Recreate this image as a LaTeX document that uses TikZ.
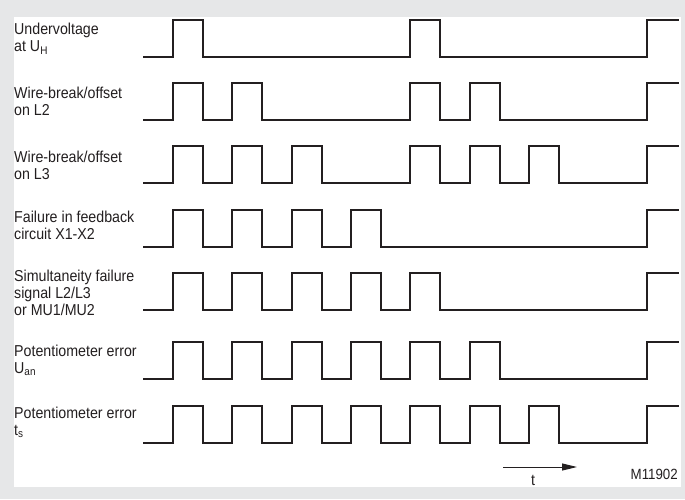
\documentclass[tikz,border=0pt]{standalone}
\usepackage{fontspec}
\setmainfont{Liberation Sans}[FakeStretch=0.9]
\usepackage{xcolor}
\usepackage{tikz}
\usetikzlibrary{arrows.meta}
\definecolor{panelgrey}{HTML}{E6E7E8}
\definecolor{ink}{HTML}{231F20}

\begin{document}
\begin{tikzpicture}[x=1pt, y=-1pt,
    sigtext/.style={anchor=north west, inner sep=0pt, align=left, text=ink,
                    font=\fontsize{15.8}{16.8}\selectfont},
    wave/.style={draw=ink, line width=2pt},
    tarrow/.style={draw=ink, line width=1pt, -{Triangle[length=15pt,width=7pt]}}
]
\useasboundingbox (0,0) rectangle (685,499);
\fill[panelgrey] (0,0) rectangle (685,499);
\fill[white] (14,17) rectangle (681,487);

% signal names
\node[sigtext] (uh)   at (14,23)  {Undervoltage\\at U\textsubscript{H}};
\node[sigtext] (ltwo) at (14,87)  {Wire-break/offset\\on L2};
\node[sigtext] (lthr) at (14,151) {Wire-break/offset\\on L3};
\node[sigtext] (fb)   at (14,211) {Failure in feedback\\circuit X1-X2};
\node[sigtext] (sim)  at (14,270) {Simultaneity failure\\signal L2/L3\\or MU1/MU2};
\node[sigtext] (uan)  at (14,345) {Potentiometer error\\U\textsubscript{an}};
\node[sigtext] (ts)   at (14,407) {Potentiometer error\\t\textsubscript{s}};

% pulse trains
\foreach \low/\pulses in {57/{0,4}, 120/{0,1,4,5}, 183/{0,1,2,4,5,6},
                          247/{0,1,2,3}, 310/{0,1,2,3,4}, 379/{0,1,2,3,4,5},
                          443/{0,1,2,3,4,5,6}}
  \draw[wave] (143,\low) foreach \k in \pulses
      {-- ({173+59.33*\k},\low) |- ({203+59.33*\k},\low-37) -- ({203+59.33*\k},\low)}
      -- (647,\low) -- (647,\low-37) -- (679,\low-37);

% time axis
\coordinate (tstart) at (503,467);
\coordinate (tend)   at (577,467);
\draw[tarrow] (tstart) -- (tend);
\node[anchor=base, inner sep=0pt, text=ink, font=\fontsize{15.8}{16.8}\selectfont] (tlab) at (533,485) {t};
\node[anchor=base east, inner sep=0pt, text=ink, font=\fontsize{14.8}{16}\selectfont] (code) at (678,479) {M11902};
\end{tikzpicture}
\end{document}
